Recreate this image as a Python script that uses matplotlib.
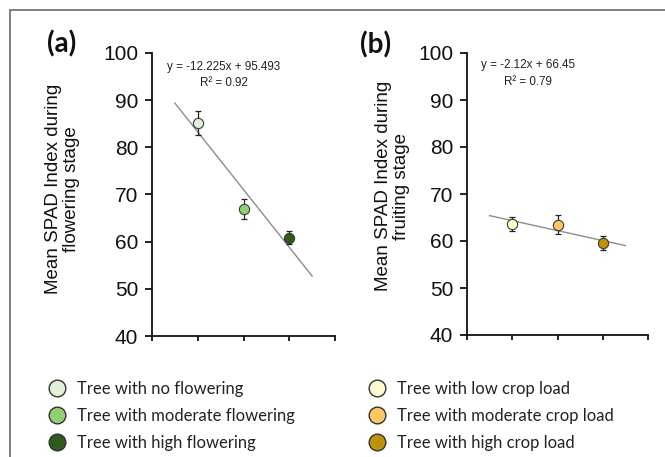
import matplotlib
matplotlib.use("Agg")
import matplotlib.pyplot as plt
from matplotlib.lines import Line2D
import numpy as np

# ---- data ----
x_pos = [1, 2, 3]
flower_labels = ["Tree with no flowering", "Tree with moderate flowering", "Tree with high flowering"]
flower_means = [85.2, 66.9, 60.8]
flower_err = [2.6, 2.1, 1.4]
flower_colors = ["#e2f0d9", "#90d070", "#2f5a1e"]
flower_fit = (-12.225, 95.493)
flower_eq = "y = -12.225x + 95.493"
flower_r2 = "R² = 0.92"

fruit_labels = ["Tree with low crop load", "Tree with moderate crop load", "Tree with high crop load"]
fruit_means = [63.7, 63.5, 59.5]
fruit_err = [1.5, 2.0, 1.5]
fruit_colors = ["#fffacf", "#ffc75f", "#c0920a"]
fruit_fit = (-2.12, 66.45)
fruit_eq = "y = -2.12x + 66.45"
fruit_r2 = "R² = 0.79"

fit_range = [0.5, 3.5]
yticks = [40, 50, 60, 70, 80, 90, 100]
xticks = [0, 1, 2, 3, 4]

W, H = 665, 457
fig = plt.figure(figsize=(W / 100, H / 100), dpi=100)
fig.patch.set_facecolor("white")

def fx(px):
    return px / W

def fy(py):
    return 1 - py / H

tick_font = dict(family=["Liberation Sans", "DejaVu Sans"], size=15)

def make_panel(left, right, top, bottom, means, errs, colors, fit, eq, r2, eqpos, ylabel, lab, labpos, ylabpos):
    ax = fig.add_axes([fx(left), fy(bottom), fx(right - left), (bottom - top) / H])
    xf = np.array(fit_range)
    ax.plot(xf, fit[0] * xf + fit[1], color="#8c8c8c", lw=1.0, zorder=1)
    for xi, m, e, c in zip(x_pos, means, errs, colors):
        ax.errorbar([xi], [m], yerr=[e], fmt="none", ecolor="#222222", elinewidth=0.9,
                    capsize=2.5, capthick=0.9, zorder=2)
        ax.plot([xi], [m], "o", ms=7.4, mfc=c, mec="#3a3a3a", mew=0.8, zorder=3)
    ax.set_xlim(0, 4)
    ax.set_ylim(40, 100)
    ax.set_xticks(xticks)
    ax.set_xticklabels([])
    ax.set_yticks(yticks)
    ax.set_yticklabels([str(t) for t in yticks], fontdict=tick_font)
    for s in ["top", "right"]:
        ax.spines[s].set_visible(False)
    for s in ["left", "bottom"]:
        ax.spines[s].set_linewidth(1.3)
        ax.spines[s].set_color("#111111")
    ax.tick_params(axis="y", direction="out", length=5, width=1.3, pad=5, colors="#111111")
    ax.tick_params(axis="x", direction="out", length=3.8, width=1.3, colors="#111111")
    ax.set_facecolor("none")
    eqfont = dict(family=["Liberation Sans", "DejaVu Sans"], size=8.4, color="#222222")
    ax.text(eqpos[0], eqpos[1], eq, transform=ax.transAxes, ha="center", va="center", **eqfont)
    ax.text(eqpos[0], eqpos[2], r2, transform=ax.transAxes, ha="center", va="center", **eqfont)
    fig.text(fx(ylabpos[0]), fy(ylabpos[1]), ylabel, rotation=90, ha="center", va="center",
             multialignment="center", linespacing=1.1,
             family=["Liberation Sans", "DejaVu Sans"], size=13.5, color="#111111")
    fig.text(fx(labpos[0]), fy(labpos[1]), lab, ha="center", va="center",
             family=["Lato", "DejaVu Sans"], weight="bold", size=20, color="#111111")
    return ax

ax1 = make_panel(152, 335, 53, 336, flower_means, flower_err, flower_colors, flower_fit,
                 flower_eq, flower_r2, (0.393, 0.95, 0.894),
                 "Mean SPAD Index during\nflowering stage", "(a)", (62, 44), (62.5, 189))
ax2 = make_panel(467, 648, 53, 335, fruit_means, fruit_err, fruit_colors, fruit_fit,
                 fruit_eq, fruit_r2, (0.337, 0.957, 0.897),
                 "Mean SPAD Index during\nfruiting stage", "(b)", (376, 45), (392.5, 186))

# legends
def make_legend(labels, colors, xpx):
    handles = [Line2D([], [], ls="none", marker="o", ms=12, mfc=c, mec="#333333", mew=1.0)
               for c in colors]
    fs = 12
    leg = fig.legend(handles, labels, loc="center left", bbox_to_anchor=(fx(xpx), fy(416)),
                     frameon=False, borderpad=0, borderaxespad=0, handlelength=1.0,
                     handletextpad=0.7, labelspacing=0.66,
                     prop=dict(family=["Lato", "DejaVu Sans"], size=fs))
    for t in leg.get_texts():
        t.set_color("#222222")
    return leg

make_legend(flower_labels, flower_colors, 48.7)
make_legend(fruit_labels, fruit_colors, 368.7)

# outer frame (left and top edges visible)
fig.add_artist(Line2D([fx(10), fx(10)], [fy(10), -0.05], transform=fig.transFigure,
                      color="#7f7f7f", lw=1.4))
fig.add_artist(Line2D([fx(10), 1.05], [fy(10), fy(10)], transform=fig.transFigure,
                      color="#7f7f7f", lw=1.4))

fig.savefig("out.png", dpi=100)
